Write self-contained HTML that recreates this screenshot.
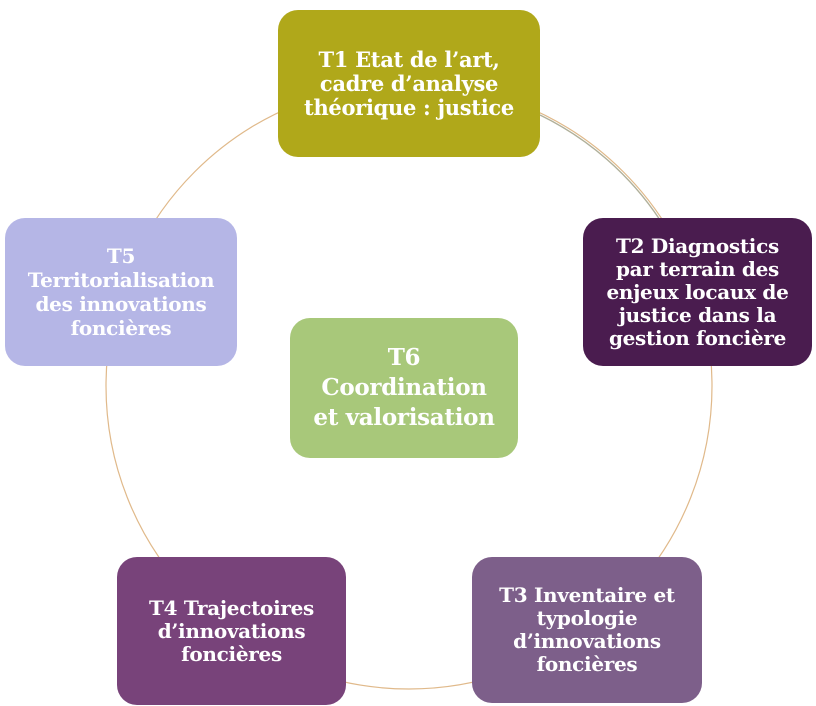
<!DOCTYPE html>
<html><head><meta charset="utf-8"><style>
body{margin:0;width:816px;height:706px;background:#fff;position:relative;overflow:hidden;font-family:"DejaVu Serif","Liberation Serif",serif;}
.b{position:absolute;border-radius:20px;color:#fff;font-weight:bold;font-size:20px;line-height:23px;text-align:center;display:flex;align-items:center;justify-content:center;box-sizing:border-box;padding:0;letter-spacing:-0.3px;white-space:nowrap;}
</style></head><body>
<svg width="816" height="706" style="position:absolute;left:0;top:0">
<circle cx="409" cy="386" r="303" fill="none" stroke="#e0b98a" stroke-width="1.2"/>
<path d="M540 115 A303 303 0 0 1 660 220" fill="none" stroke="#b0b09a" stroke-width="1.4"/>
</svg>
<div class="b" style="left:278px;top:10px;width:262px;height:147px;background:#b0a81a;font-size:21px;line-height:24px">T1 Etat de l’art,<br>cadre d’analyse<br>théorique : justice</div>
<div class="b" style="left:583px;top:218px;width:229px;height:148px;background:#4a1c4f">T2 Diagnostics<br>par terrain des<br>enjeux locaux de<br>justice dans la<br>gestion foncière</div>
<div class="b" style="left:472px;top:557px;width:230px;height:146px;background:#7d5f8a">T3 Inventaire et<br>typologie<br>d’innovations<br>foncières</div>
<div class="b" style="left:117px;top:557px;width:229px;height:148px;background:#78437a">T4 Trajectoires<br>d’innovations<br>foncières</div>
<div class="b" style="left:5px;top:218px;width:232px;height:148px;background:#b5b6e6;line-height:24px">T5<br>Territorialisation<br>des innovations<br>foncières</div>
<div class="b" style="left:290px;top:318px;width:228px;height:140px;background:#a8c87a;font-size:23px;line-height:30px">T6<br>Coordination<br>et valorisation</div>
</body></html>
